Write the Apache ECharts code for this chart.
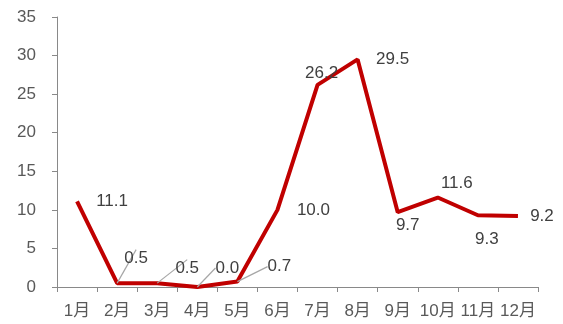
<!DOCTYPE html>
<html><head><meta charset="utf-8">
<script src="https://cdn.jsdelivr.net/npm/echarts@6/dist/echarts.min.js"></script>
<style>html,body{margin:0;padding:0;background:#fff}#c{width:563px;height:324px}</style>
</head><body><div id="c"></div>
<script>
const categories = ['1月','2月','3月','4月','5月','6月','7月','8月','9月','10月','11月','12月'];
const values = [11.1, 0.5, 0.5, 0.0, 0.7, 10.0, 26.2, 29.5, 9.7, 11.6, 9.3, 9.2];
const labelOffsets = [[35,0],[19,-25],[30,-15],[30,-19],[42,-15],[36,0],[4,-12],[35,0],[10,13],[19,-14],[9,24],[24,0]];
const leaderIdx = [1,2,3,4];

const chart = echarts.init(document.getElementById('c'));
const font = '"Liberation Sans", Arial, "Noto Sans CJK SC", sans-serif';
chart.setOption({
  animation: false,
  grid: {left: 57, right: 25, top: 17, bottom: 37},
  xAxis: {
    type: 'category', data: categories, boundaryGap: true,
    axisLine: {lineStyle: {color: '#898989', width: 1}},
    axisTick: {show: true, length: 5, lineStyle: {color: '#898989'}},
    axisLabel: {color: '#595959', fontSize: 17, fontFamily: font, margin: 16, interval: 0}
  },
  yAxis: {
    type: 'value', min: 0, max: 35, interval: 5,
    axisLine: {show: true, lineStyle: {color: '#898989', width: 1}},
    axisTick: {show: true, length: 5, lineStyle: {color: '#898989'}},
    splitLine: {show: false},
    axisLabel: {color: '#595959', fontSize: 17, fontFamily: font, margin: 21}
  },
  series: [{
    type: 'line',
    data: values.map((v, i) => leaderIdx.includes(i)
      ? {value: v, labelLine: {show: true, lineStyle: {color: '#a6a6a6', width: 1.2}}}
      : v),
    symbol: 'circle', symbolSize: 0, showSymbol: true,
    lineStyle: {color: '#C00000', width: 4},
    itemStyle: {color: '#C00000'},
    label: {
      show: true, position: [0, 0], align: 'center', verticalAlign: 'middle',
      color: '#404040', fontSize: 17, fontFamily: font,
      formatter: p => Number(p.value).toFixed(1)
    },
    labelLine: {show: false},
    labelLayout: function (p) {
      const o = labelOffsets[p.dataIndex];
      return {dx: o[0], dy: o[1]};
    },
    emphasis: {disabled: true}
  }]
});
</script></body></html>
